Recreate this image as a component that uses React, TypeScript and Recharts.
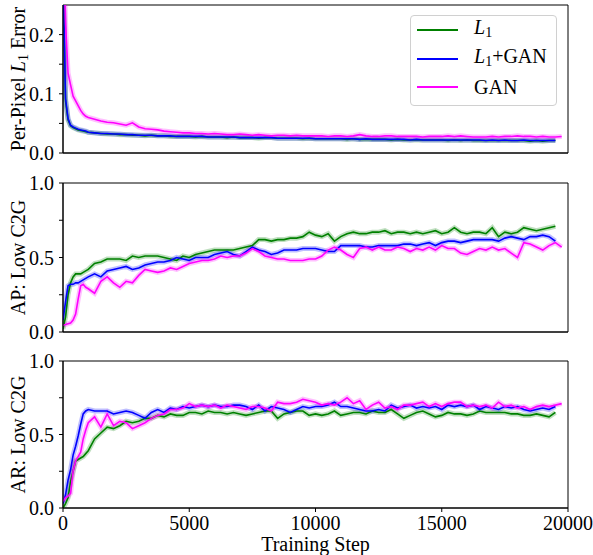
import React from "react";
import { LineChart, Line, XAxis, YAxis, Legend, ReferenceArea } from "recharts";

const FONT = "'Liberation Serif', 'Times New Roman', serif";

// training steps (x values)
const STEPS = [
  0, 100, 200, 300, 400, 500, 600, 700, 800, 900, 1000, 1250, 1500, 1750, 2000,
  2250, 2500, 2750, 3000, 3250, 3500, 3750, 4000, 4250, 4500, 4750, 5000, 5250,
  5500, 5750, 6000, 6250, 6500, 6750, 7000, 7250, 7500, 7750, 8000, 8250, 8500,
  8750, 9000, 9250, 9500, 9750, 10000, 10250, 10500, 10750, 11000, 11250, 11500,
  11750, 12000, 12250, 12500, 12750, 13000, 13250, 13500, 13750, 14000, 14250,
  14500, 14750, 15000, 15250, 15500, 15750, 16000, 16250, 16500, 16750, 17000,
  17250, 17500, 17750, 18000, 18250, 18500, 18750, 19000, 19250, 19500, 19750,
];

// Per-pixel L1 error
const errL1 = [
  0.3, 0.088, 0.056, 0.046, 0.043, 0.041, 0.039, 0.038, 0.037, 0.036, 0.035,
  0.034, 0.033, 0.032, 0.032, 0.031, 0.031, 0.030, 0.030, 0.029, 0.030, 0.029,
  0.029, 0.028, 0.028, 0.028, 0.028, 0.027, 0.028, 0.027, 0.027, 0.027, 0.026,
  0.027, 0.026, 0.026, 0.026, 0.025, 0.026, 0.026, 0.025, 0.025, 0.025, 0.025,
  0.024, 0.025, 0.024, 0.024, 0.024, 0.024, 0.024, 0.023, 0.024, 0.023, 0.023,
  0.023, 0.023, 0.023, 0.022, 0.023, 0.022, 0.022, 0.022, 0.022, 0.022, 0.022,
  0.022, 0.021, 0.022, 0.021, 0.022, 0.021, 0.021, 0.021, 0.021, 0.021, 0.021,
  0.021, 0.021, 0.021, 0.020, 0.021, 0.020, 0.021, 0.021,
];
const errL1Gan = [
  0.3, 0.092, 0.058, 0.047, 0.044, 0.042, 0.040, 0.039, 0.038, 0.037, 0.035,
  0.034, 0.033, 0.033, 0.032, 0.032, 0.031, 0.031, 0.030, 0.030, 0.030, 0.029,
  0.029, 0.029, 0.028, 0.028, 0.028, 0.028, 0.028, 0.027, 0.027, 0.027, 0.027,
  0.027, 0.026, 0.026, 0.026, 0.026, 0.026, 0.026, 0.025, 0.025, 0.025, 0.025,
  0.025, 0.025, 0.024, 0.024, 0.024, 0.024, 0.024, 0.024, 0.024, 0.023, 0.024,
  0.023, 0.023, 0.023, 0.023, 0.023, 0.023, 0.022, 0.023, 0.022, 0.022, 0.022,
  0.022, 0.022, 0.022, 0.022, 0.022, 0.022, 0.022, 0.021, 0.022, 0.021, 0.022,
  0.021, 0.021, 0.022, 0.021, 0.021, 0.021, 0.021, 0.021,
];
const errGan = [
  0.4, 0.22, 0.135, 0.115, 0.096, 0.088, 0.08, 0.072, 0.066, 0.062, 0.06, 0.057,
  0.054, 0.052, 0.051, 0.049, 0.047, 0.051, 0.044, 0.041, 0.04, 0.039, 0.037,
  0.036, 0.035, 0.034, 0.034, 0.033, 0.033, 0.032, 0.033, 0.032, 0.031, 0.031,
  0.032, 0.031, 0.03, 0.031, 0.03, 0.029, 0.03, 0.03, 0.029, 0.03, 0.029, 0.029,
  0.029, 0.029, 0.028, 0.029, 0.029, 0.028, 0.029, 0.031, 0.029, 0.028, 0.028,
  0.029, 0.029, 0.028, 0.028, 0.028, 0.028, 0.027, 0.028, 0.028, 0.028, 0.029,
  0.028, 0.029, 0.028, 0.027, 0.027, 0.027, 0.028, 0.027, 0.028, 0.028, 0.029,
  0.028, 0.028, 0.027, 0.028, 0.027, 0.027, 0.028,
];

// AP: Low C2G
const apL1 = [
  0.02, 0.1, 0.25, 0.33, 0.37, 0.39, 0.39, 0.39, 0.4, 0.41, 0.42, 0.46, 0.47,
  0.49, 0.49, 0.49, 0.48, 0.51, 0.5, 0.51, 0.51, 0.51, 0.5, 0.49, 0.48, 0.51,
  0.5, 0.52, 0.53, 0.54, 0.55, 0.55, 0.55, 0.55, 0.56, 0.57, 0.58, 0.62, 0.62,
  0.61, 0.62, 0.62, 0.63, 0.63, 0.64, 0.67, 0.65, 0.64, 0.66, 0.61, 0.64, 0.66,
  0.67, 0.66, 0.66, 0.67, 0.67, 0.68, 0.66, 0.67, 0.67, 0.66, 0.67, 0.66, 0.67,
  0.68, 0.66, 0.67, 0.7, 0.67, 0.66, 0.67, 0.67, 0.66, 0.7, 0.64, 0.67, 0.66,
  0.67, 0.7, 0.69, 0.68, 0.69, 0.7, 0.71,
];
const apL1Gan = [
  0.08, 0.2, 0.31, 0.32, 0.32, 0.33, 0.33, 0.34, 0.35, 0.36, 0.37, 0.39, 0.37,
  0.41, 0.42, 0.43, 0.44, 0.42, 0.43, 0.45, 0.46, 0.47, 0.47, 0.48, 0.5, 0.49,
  0.48, 0.5, 0.5, 0.5, 0.52, 0.53, 0.54, 0.52, 0.51, 0.54, 0.57, 0.55, 0.54,
  0.52, 0.53, 0.55, 0.55, 0.55, 0.56, 0.56, 0.56, 0.55, 0.54, 0.54, 0.58, 0.58,
  0.58, 0.58, 0.57, 0.57, 0.58, 0.58, 0.58, 0.58, 0.59, 0.59, 0.58, 0.59, 0.6,
  0.58, 0.6, 0.61, 0.61, 0.6, 0.61, 0.62, 0.62, 0.62, 0.62, 0.61, 0.63, 0.64,
  0.63, 0.62, 0.64, 0.64, 0.65, 0.64, 0.61,
];
const apGan = [
  0.045, 0.05, 0.056, 0.06, 0.08, 0.12, 0.22, 0.31, 0.32, 0.3, 0.29, 0.26, 0.34,
  0.37, 0.33, 0.3, 0.34, 0.33, 0.38, 0.42, 0.41, 0.4, 0.41, 0.43, 0.42, 0.44,
  0.46, 0.47, 0.48, 0.48, 0.49, 0.51, 0.5, 0.51, 0.51, 0.53, 0.56, 0.54, 0.51,
  0.5, 0.49, 0.49, 0.48, 0.48, 0.48, 0.49, 0.49, 0.51, 0.55, 0.57, 0.55, 0.52,
  0.5, 0.56, 0.57, 0.55, 0.57, 0.55, 0.55, 0.57, 0.56, 0.54, 0.56, 0.55, 0.57,
  0.55, 0.58, 0.56, 0.56, 0.53, 0.52, 0.54, 0.56, 0.55, 0.57, 0.55, 0.56, 0.53,
  0.5, 0.6, 0.59, 0.57, 0.55, 0.58, 0.6, 0.57,
];

// AR: Low C2G
const arL1 = [
  0.0, 0.03, 0.07, 0.18, 0.25, 0.32, 0.33, 0.34, 0.35, 0.37, 0.39, 0.47, 0.51,
  0.55, 0.54, 0.56, 0.59, 0.58, 0.59, 0.61, 0.61, 0.63, 0.62, 0.64, 0.63, 0.63,
  0.65, 0.65, 0.64, 0.66, 0.65, 0.65, 0.64, 0.65, 0.64, 0.63, 0.64, 0.65, 0.66,
  0.66, 0.61, 0.64, 0.65, 0.66, 0.66, 0.63, 0.64, 0.63, 0.64, 0.66, 0.63, 0.64,
  0.65, 0.65, 0.64, 0.66, 0.65, 0.65, 0.67, 0.64, 0.61, 0.63, 0.65, 0.66, 0.64,
  0.62, 0.63, 0.65, 0.64, 0.64, 0.63, 0.64, 0.66, 0.65, 0.65, 0.65, 0.65, 0.64,
  0.64, 0.63, 0.63, 0.64, 0.63, 0.62, 0.65,
];
const arL1Gan = [
  0.03, 0.09, 0.19, 0.26, 0.36, 0.42, 0.49, 0.57, 0.64, 0.66, 0.67, 0.66, 0.66,
  0.66, 0.64, 0.65, 0.66, 0.65, 0.63, 0.61, 0.65, 0.67, 0.65, 0.68, 0.67, 0.69,
  0.68, 0.69, 0.7, 0.69, 0.7, 0.69, 0.69, 0.7, 0.7, 0.69, 0.67, 0.7, 0.66, 0.69,
  0.68, 0.67, 0.65, 0.67, 0.69, 0.68, 0.69, 0.69, 0.7, 0.72, 0.69, 0.69, 0.68,
  0.67, 0.66, 0.66, 0.67, 0.66, 0.7, 0.68, 0.69, 0.7, 0.68, 0.69, 0.68, 0.69,
  0.67, 0.7, 0.69, 0.7, 0.69, 0.7, 0.67, 0.69, 0.68, 0.67, 0.69, 0.68, 0.69,
  0.67, 0.66, 0.67, 0.68, 0.67, 0.69,
];
const arGan = [
  0.045, 0.07, 0.08, 0.1, 0.25, 0.32, 0.35, 0.38, 0.47, 0.53, 0.58, 0.62, 0.55,
  0.64, 0.56, 0.59, 0.58, 0.54, 0.56, 0.58, 0.61, 0.63, 0.64, 0.67, 0.67, 0.68,
  0.71, 0.69, 0.7, 0.69, 0.7, 0.68, 0.7, 0.69, 0.68, 0.67, 0.69, 0.69, 0.68,
  0.66, 0.72, 0.71, 0.71, 0.72, 0.74, 0.73, 0.72, 0.7, 0.71, 0.7, 0.72, 0.75,
  0.71, 0.73, 0.67, 0.7, 0.72, 0.68, 0.69, 0.67, 0.7, 0.7, 0.71, 0.72, 0.69,
  0.71, 0.69, 0.71, 0.72, 0.72, 0.69, 0.7, 0.69, 0.7, 0.68, 0.72, 0.69, 0.7,
  0.68, 0.69, 0.67, 0.69, 0.7, 0.69, 0.7, 0.71,
];

const X_TICKS = [0, 5000, 10000, 15000, 20000];
const ERR_TICKS = [0, 0.05, 0.1, 0.15, 0.2];
const ERR_TICK_LABELS = ["0.0", "", "0.1", "", "0.2"];
const SCORE_TICKS = [0, 0.25, 0.5, 0.75, 1];
const SCORE_TICK_LABELS = ["0.0", "", "0.5", "", "1.0"];

const SERIES = [
  { key: "l1", name: "L1", color: "#008000" },
  { key: "l1gan", name: "L1+GAN", color: "#0000ff" },
  { key: "gan", name: "GAN", color: "#ff00ff" },
];

const toRows = (a: number[], b: number[], c: number[]) =>
  STEPS.map((step, i) => ({
    step,
    l1: a[i] ?? null,
    l1gan: b[i] ?? null,
    gan: c[i] ?? null,
  }));

const legendLabel = (name: string) => {
  if (name === "GAN") return <span>GAN</span>;
  return (
    <span>
      <i>L</i>
      <sub style={{ fontSize: 14, verticalAlign: -3 }}>1</sub>
      {name === "L1+GAN" ? "+GAN" : ""}
    </span>
  );
};

const LegendBox = () => (
  <div
    style={{
      width: 145,
      height: 89,
      border: "1px solid #d0d0d0",
      borderRadius: 4,
      background: "rgba(255,255,255,0.85)",
      fontFamily: FONT,
      fontSize: 20,
      color: "#000",
      position: "relative",
    }}
  >
    {SERIES.map((s, i) => (
      <div
        key={s.key}
        style={{
          position: "absolute",
          left: 6,
          top: 2 + i * 28.7,
          height: 24,
          display: "flex",
          alignItems: "center",
        }}
      >
        <div style={{ width: 41, height: 2, background: s.color }} />
        <div style={{ marginLeft: 16, lineHeight: "24px" }}>{legendLabel(s.name)}</div>
      </div>
    ))}
  </div>
);

interface PanelProps {
  rows: any[];
  top: number;
  height: number;
  marginTop: number;
  marginBottom: number;
  xAxisHeight: number;
  yDomain: [number, number];
  yTicks: number[];
  yTickLabels: string[];
  yLabel: React.ReactNode;
  showXLabels?: boolean;
  legend?: boolean;
}

function Panel({
  rows,
  top,
  height,
  marginTop,
  marginBottom,
  xAxisHeight,
  yDomain,
  yTicks,
  yTickLabels,
  yLabel,
  showXLabels,
  legend,
}: PanelProps) {
  const tickStyle = { fill: "#000", fontSize: 20, fontFamily: FONT };
  return (
    <div style={{ position: "absolute", left: 0, top }}>
      <LineChart
        width={593}
        height={height}
        data={rows}
        margin={{ top: marginTop, right: 25, bottom: marginBottom, left: 0 }}
      >
        <XAxis
          dataKey="step"
          type="number"
          domain={[0, 20000]}
          ticks={X_TICKS}
          allowDataOverflow
          height={xAxisHeight}
          stroke="#000"
          tickSize={4}
          tickMargin={4}
          tick={showXLabels ? tickStyle : false}
          label={
            showXLabels
              ? (props: any) => {
                  const vb = props.viewBox;
                  return (
                    <text
                      x={vb.x + vb.width / 2}
                      y={vb.y + 43}
                      textAnchor="middle"
                      fontSize={20}
                      fontFamily={FONT}
                      fill="#000"
                    >
                      Training Step
                    </text>
                  );
                }
              : undefined
          }
        />
        <YAxis
          type="number"
          domain={yDomain}
          ticks={yTicks}
          allowDataOverflow
          width={63}
          stroke="#000"
          tickSize={4}
          tickMargin={5}
          tick={tickStyle}
          interval={0}
          tickFormatter={(v: number) => yTickLabels[yTicks.indexOf(v)] ?? ""}
          label={(props: any) => {
            const vb = props.viewBox;
            const cy = vb.y + vb.height / 2;
            return (
              <text
                x={25}
                y={cy}
                transform={`rotate(-90, 25, ${cy})`}
                textAnchor="middle"
                fontSize={20}
                fontFamily={FONT}
                fill="#000"
              >
                {yLabel}
              </text>
            );
          }}
        />
        {/* plot frame */}
        <ReferenceArea
          x1={0}
          x2={20000}
          y1={yDomain[0]}
          y2={yDomain[1]}
          fill="none"
          stroke="#000"
          strokeWidth={1}
        />
        {SERIES.map((s) => (
          <Line
            key={s.key + "-band"}
            dataKey={s.key}
            stroke={s.color}
            strokeOpacity={0.25}
            strokeWidth={5}
            dot={false}
            activeDot={false}
            legendType="none"
            isAnimationActive={false}
          />
        ))}
        {SERIES.map((s) => (
          <Line
            key={s.key}
            dataKey={s.key}
            name={s.name}
            stroke={s.color}
            strokeWidth={1.6}
            dot={false}
            activeDot={false}
            isAnimationActive={false}
          />
        ))}
        {legend && (
          <Legend
            layout="vertical"
            align="center"
            verticalAlign="middle"
            content={() => <LegendBox />}
            wrapperStyle={{ position: "absolute", left: 410, top: 15, width: 147 }}
          />
        )}
      </LineChart>
    </div>
  );
}

export default function App() {
  return (
    <div
      style={{
        position: "absolute",
        left: 0,
        top: 0,
        width: 593,
        height: 555,
        background: "#fff",
        overflow: "hidden",
      }}
    >
      <Panel
        rows={toRows(errL1, errL1Gan, errGan)}
        top={0}
        height={172}
        marginTop={5}
        marginBottom={12}
        xAxisHeight={7}
        yDomain={[0, 0.25]}
        yTicks={ERR_TICKS}
        yTickLabels={ERR_TICK_LABELS}
        yLabel={
          <>
            <tspan>Per-Pixel </tspan>
            <tspan fontStyle="italic">L</tspan>
            <tspan fontSize={14} dy={3}>
              1
            </tspan>
            <tspan dy={-3}> Error</tspan>
          </>
        }
        legend
      />
      <Panel
        rows={toRows(apL1, apL1Gan, apGan)}
        top={170}
        height={181}
        marginTop={13}
        marginBottom={12}
        xAxisHeight={7}
        yDomain={[0, 1]}
        yTicks={SCORE_TICKS}
        yTickLabels={SCORE_TICK_LABELS}
        yLabel="AP: Low C2G"
      />
      <Panel
        rows={toRows(arL1, arL1Gan, arGan)}
        top={340}
        height={215}
        marginTop={21}
        marginBottom={0}
        xAxisHeight={47}
        yDomain={[0, 1]}
        yTicks={SCORE_TICKS}
        yTickLabels={SCORE_TICK_LABELS}
        yLabel="AR: Low C2G"
        showXLabels
      />
    </div>
  );
}
